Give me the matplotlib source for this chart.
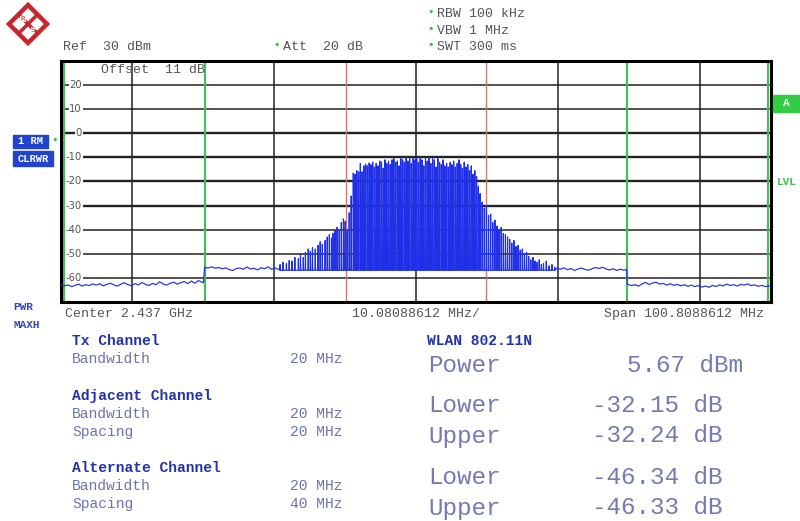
import numpy as np
import matplotlib
matplotlib.use("Agg")
import matplotlib.pyplot as plt
from matplotlib.patches import Polygon, Rectangle
from matplotlib.transforms import blended_transform_factory

# sweep: frequency in MHz relative to 2.437 GHz, level in dBm
span_mhz = 100.8088612
level_ticks = [20, 10, 0, -10, -20, -30, -40, -50, -60]
tx_edges_mhz = [-10, 10]
adj_edges_mhz = [-30, 30]
alt_edges_mhz = [-50, 50]

# noise floor outside the alternate/adjacent steps
floor_left_mhz = [-50.4, -49.9, -49.4, -48.9, -48.4, -47.9, -47.4, -46.9, -46.4, -45.9,
                  -45.4, -44.9, -44.4, -43.9, -43.4, -42.9, -42.4, -41.9, -41.4, -40.9,
                  -40.4, -39.9, -39.4, -38.9, -38.4, -37.9, -37.4, -36.9, -36.4, -35.9,
                  -35.4, -34.9, -34.4, -33.9, -33.4, -32.9, -32.4, -31.9, -31.4, -30.9, -30.2]
floor_left_db = [-62.8, -63.3, -62.9, -63.6, -63.1, -62.6, -63.4, -62.8, -63.2, -62.5,
                 -63.0, -62.4, -63.3, -62.7, -62.2, -62.9, -63.4, -62.6, -62.0, -62.8,
                 -63.2, -62.4, -62.9, -61.9, -62.7, -63.1, -62.3, -62.8, -61.6, -62.5,
                 -63.0, -62.2, -61.8, -62.6, -62.0, -61.5, -62.4, -61.3, -62.2, -61.1, -62.0]

floor_mid_left_mhz = [-30.0, -29.5, -29.0, -28.5, -28.0, -27.5, -27.0, -26.5, -26.0, -25.5, -25.0,
                      -24.5, -24.0, -23.5, -23.0, -22.5, -22.0, -21.5, -21.0, -20.5, -20.0, -19.6]
floor_mid_left_db = [-55.6, -55.9, -55.4, -56.0, -55.7, -56.2, -55.8, -56.6, -56.9, -56.1, -55.9,
                     -56.4, -55.5, -56.3, -56.0, -56.7, -55.8, -56.2, -55.4, -56.5, -55.9, -56.3]

floor_mid_right_mhz = [20.0, 20.5, 21.0, 21.5, 22.0, 22.5, 23.0, 23.5, 24.0, 24.5, 25.0,
                       25.5, 26.0, 26.5, 27.0, 27.5, 28.0, 28.5, 29.0, 29.5, 29.9]
floor_mid_right_db = [-56.0, -56.4, -55.8, -56.6, -56.1, -56.9, -56.3, -55.9, -56.5, -56.8, -56.2,
                      -55.7, -56.1, -55.6, -56.3, -56.7, -56.2, -56.9, -56.4, -56.8, -56.5]

floor_right_mhz = [30.0, 30.6, 31.1, 31.6, 32.1, 32.6, 33.1, 33.6, 34.1, 34.6, 35.1,
                   35.6, 36.1, 36.6, 37.1, 37.6, 38.1, 38.6, 39.1, 39.6, 40.1,
                   40.6, 41.1, 41.6, 42.1, 42.6, 43.1, 43.6, 44.1, 44.6, 45.1,
                   45.6, 46.1, 46.6, 47.1, 47.6, 48.1, 48.6, 49.1, 49.6, 50.1, 50.4]
floor_right_db = [-62.6, -63.2, -62.8, -63.4, -62.5, -61.9, -62.7, -62.1, -61.8, -62.6, -62.3,
                  -63.0, -62.4, -63.1, -62.7, -63.3, -62.8, -63.5, -63.0, -63.6, -63.2,
                  -63.8, -63.4, -63.9, -63.1, -63.6, -62.9, -63.3, -62.6, -63.1, -62.8,
                  -63.4, -62.7, -63.0, -62.5, -63.2, -62.9, -63.5, -63.1, -63.6, -63.3, -63.4]

# peaks of the OFDM comb (skirts and occupied band)
spike_mhz = [-19.3, -18.9, -18.4, -18.0, -17.6, -17.2, -16.7, -16.4, -16.0, -15.7,
             -15.3, -15.0, -14.7, -14.3, -13.9, -13.6, -13.3, -12.9, -12.6, -12.3,
             -12.0, -11.8, -11.5, -11.2, -10.9, -10.6, -10.3, -10.05, -9.77, -9.48, -9.2,
             -8.90, -8.65, -8.40, -8.15, -7.90, -7.65, -7.40, -7.15, -6.90, -6.65,
             -6.40, -6.15, -5.90, -5.65, -5.40, -5.15, -4.90, -4.65, -4.40, -4.15,
             -3.90, -3.65, -3.40, -3.15, -2.90, -2.65, -2.40, -2.15, -1.90, -1.65,
             -1.40, -1.15, -0.90, -0.65, -0.40, -0.15, 0.10, 0.35, 0.60, 0.85,
             1.10, 1.35, 1.60, 1.85, 2.10, 2.35, 2.60, 2.85, 3.10, 3.35,
             3.60, 3.85, 4.10, 4.35, 4.60, 4.85, 5.10, 5.35, 5.60, 5.85,
             6.10, 6.35, 6.60, 6.85, 7.10, 7.35, 7.60, 7.85, 8.10, 8.35,
             8.60, 8.85, 9.10, 9.40, 9.70, 10.0, 10.3, 10.6, 10.9, 11.2,
             11.5, 11.8, 12.1, 12.4, 12.7, 13.0, 13.3, 13.6, 13.9, 14.2,
             14.5, 14.8, 15.1, 15.4, 15.7, 16.0, 16.3, 16.6, 16.9, 17.2,
             17.5, 17.8, 18.1, 18.5, 18.9, 19.3, 19.7]
spike_db = [-54.5, -53.5, -54.0, -52.8, -53.0, -51.5, -52.0, -50.0, -51.5, -49.5,
            -48.0, -49.0, -47.5, -48.0, -46.5, -45.0, -46.0, -44.5, -43.0, -42.0,
            -43.5, -41.5, -40.5, -39.0, -40.0, -37.0, -35.5, -36.5, -40.0, -33.0, -26.0,
            -16.5, -17.0, -15.5, -16.0, -12.5, -16.0, -13.5, -12.8, -13.5, -12.3,
            -13.0, -12.0, -14.0, -12.5, -13.5, -11.5, -12.0, -14.5, -11.0, -12.5,
            -11.5, -13.0, -11.0, -10.5, -12.0, -11.5, -13.5, -10.5, -11.0, -12.0,
            -10.0, -11.5, -10.5, -12.5, -10.0, -11.0, -10.5, -12.0, -10.0, -11.0,
            -13.5, -10.5, -11.5, -10.0, -12.5, -10.5, -11.0, -14.0, -10.5, -12.0,
            -13.0, -11.0, -13.5, -12.5, -14.0, -12.0, -13.0, -11.5, -14.0, -12.5,
            -11.0, -13.0, -14.5, -12.0, -14.0, -13.0, -15.5, -13.5, -17.0, -15.5,
            -18.0, -22.0, -25.0, -28.5, -31.0, -30.0, -34.0, -33.5, -37.0, -36.0,
            -38.5, -40.0, -39.0, -41.5, -42.0, -43.0, -44.0, -45.5, -44.5, -47.0,
            -46.5, -48.5, -48.0, -50.0, -49.5, -51.0, -52.5, -51.5, -53.0, -53.5,
            -52.5, -54.5, -54.0, -53.0, -55.0, -54.5, -55.5]
spike_floor_db = -56.8

# build the trace in sweep order
comb_f, comb_l = [], []
for f, p in zip(spike_mhz, spike_db):
    comb_f += [f - 0.035, f, f + 0.035]
    comb_l += [spike_floor_db, p, spike_floor_db]
trace_f = floor_left_mhz + floor_mid_left_mhz + comb_f + floor_mid_right_mhz + floor_right_mhz
trace_l = floor_left_db + floor_mid_left_db + comb_l + floor_mid_right_db + floor_right_db

mono = "Liberation Mono"
grey = "#555555"
label_blue = "#6d73ad"
result_blue = "#7479b3"
head_blue = "#2233aa"

fig = plt.figure(figsize=(8, 5.21), dpi=100)
ax = fig.add_axes([61 / 800, 1 - 302 / 521, 710 / 800, 241 / 521])
half = span_mhz / 2
ax.set_xlim(-half, half)
ax.set_ylim(-70, 30)

divs = np.linspace(-half, half, 11)
for x in divs[1::2]:
    ax.axvline(x, color="#222222", lw=1.1, zorder=1)
for lv in level_ticks:
    thick = 1.7 if -30 <= lv <= 0 else 1.1
    ax.axhline(lv, color="#222222", lw=thick, zorder=1)

tr = blended_transform_factory(ax.transAxes, ax.transData)
for lv in level_ticks:
    ax.text(0.0295, lv, str(lv), transform=tr, ha="right", va="center",
            fontsize=7.2, family="DejaVu Sans", color=grey, zorder=1.5,
            bbox=dict(facecolor="white", edgecolor="none", pad=0.4))

for x in alt_edges_mhz + adj_edges_mhz:
    ax.axvline(x, color="#4cb860", lw=1.6, zorder=2)
for x in tx_edges_mhz:
    ax.axvline(x, color="#d07a7a", lw=1.0, zorder=2)

ax.plot(trace_f, trace_l, color="#1f30e6", lw=0.85, zorder=3)

ax.set_xticks([])
ax.set_yticks([])
for s in ax.spines.values():
    s.set_linewidth(2.2)
    s.set_color("black")

# overlay in pixel coordinates for the instrument annotations
ov = fig.add_axes([0, 0, 1, 1], zorder=5)
ov.set_xlim(0, 800)
ov.set_ylim(521, 0)
ov.axis("off")


def txt(x, y, s, size=9.5, color=grey, weight="normal", ha="left"):
    ov.text(x, y, s, fontsize=size, family=mono, color=color,
            fontweight=weight, ha=ha, va="center")


# R&S logo
red = "#c8262a"
ov.add_patch(Polygon([(28, 5), (47, 24), (28, 43), (9, 24)], closed=True,
                     fill=False, edgecolor=red, lw=3.2))
ov.plot([18.5, 37.5], [14.5, 33.5], color=red, lw=2.5)
ov.plot([37.5, 18.5], [14.5, 33.5], color=red, lw=2.5)
ov.text(23, 19, "R", fontsize=5, color=red, ha="center", va="center",
        bbox=dict(facecolor="white", edgecolor="none", pad=0.2))
ov.text(33, 30, "S", fontsize=5, color=red, ha="center", va="center",
        bbox=dict(facecolor="white", edgecolor="none", pad=0.2))

green = "#33bb44"
txt(63, 47, "Ref  30 dBm")
ov.text(277, 45, "\u2022", fontsize=8, color=green, ha="center", va="center")
txt(283, 47, "Att  20 dB")
for y, s in [(14, "RBW 100 kHz"), (31, "VBW 1 MHz"), (47, "SWT 300 ms")]:
    ov.text(431, y - 2, "\u2022", fontsize=8, color=green, ha="center", va="center")
    txt(437, y, s)
txt(101, 70, "Offset  11 dB")

# trace labels on the left
ov.add_patch(Rectangle((13, 135), 35, 13, color="#2244cc"))
ov.text(30.5, 141.5, "1 RM", fontsize=7.5, family=mono, color="white",
        fontweight="bold", ha="center", va="center")
ov.add_patch(Rectangle((13, 151), 40, 15, color="#2244cc"))
ov.text(33, 158.5, "CLRWR", fontsize=7.5, family=mono, color="white",
        fontweight="bold", ha="center", va="center")
ov.text(55, 140, "\u2022", fontsize=8, color=green, ha="center", va="center")
txt(13, 307, "PWR", size=8, color="#3344bb", weight="bold")
txt(13, 325, "MAXH", size=8, color="#3344bb", weight="bold")

ov.add_patch(Rectangle((773, 95), 27, 17, color="#33cc44"))
ov.text(786, 103.5, "A", fontsize=8, family=mono, color="white",
        fontweight="bold", ha="center", va="center")
txt(777, 182, "LVL", size=8, color="#44bb55", weight="bold")

txt(65, 314, "Center 2.437 GHz")
txt(352, 314, "10.08088612 MHz/")
txt(764, 314, "Span 100.8088612 MHz", ha="right")

# channel settings table
txt(72, 341, "Tx Channel", size=10.5, color=head_blue, weight="bold")
txt(72, 359, "Bandwidth", size=10.5, color=label_blue)
txt(290, 359, "20 MHz", size=10.5, color=label_blue)
txt(72, 396, "Adjacent Channel", size=10.5, color=head_blue, weight="bold")
txt(72, 414, "Bandwidth", size=10.5, color=label_blue)
txt(290, 414, "20 MHz", size=10.5, color=label_blue)
txt(72, 432, "Spacing", size=10.5, color=label_blue)
txt(290, 432, "20 MHz", size=10.5, color=label_blue)
txt(72, 468, "Alternate Channel", size=10.5, color=head_blue, weight="bold")
txt(72, 486, "Bandwidth", size=10.5, color=label_blue)
txt(290, 486, "20 MHz", size=10.5, color=label_blue)
txt(72, 504, "Spacing", size=10.5, color=label_blue)
txt(290, 504, "40 MHz", size=10.5, color=label_blue)

# measurement results
txt(427, 341, "WLAN 802.11N", size=10.5, color=head_blue, weight="bold")
results = [(365, "Power", "5.67 dBm", 743),
           (406, "Lower", "-32.15 dB", 723),
           (436, "Upper", "-32.24 dB", 723),
           (478, "Lower", "-46.34 dB", 723),
           (508, "Upper", "-46.33 dB", 723)]
for y, name, val, xr in results:
    txt(428, y, name, size=17.5, color=result_blue)
    txt(xr, y, val, size=17.5, color=result_blue, ha="right")

fig.savefig("out.png", dpi=100)
